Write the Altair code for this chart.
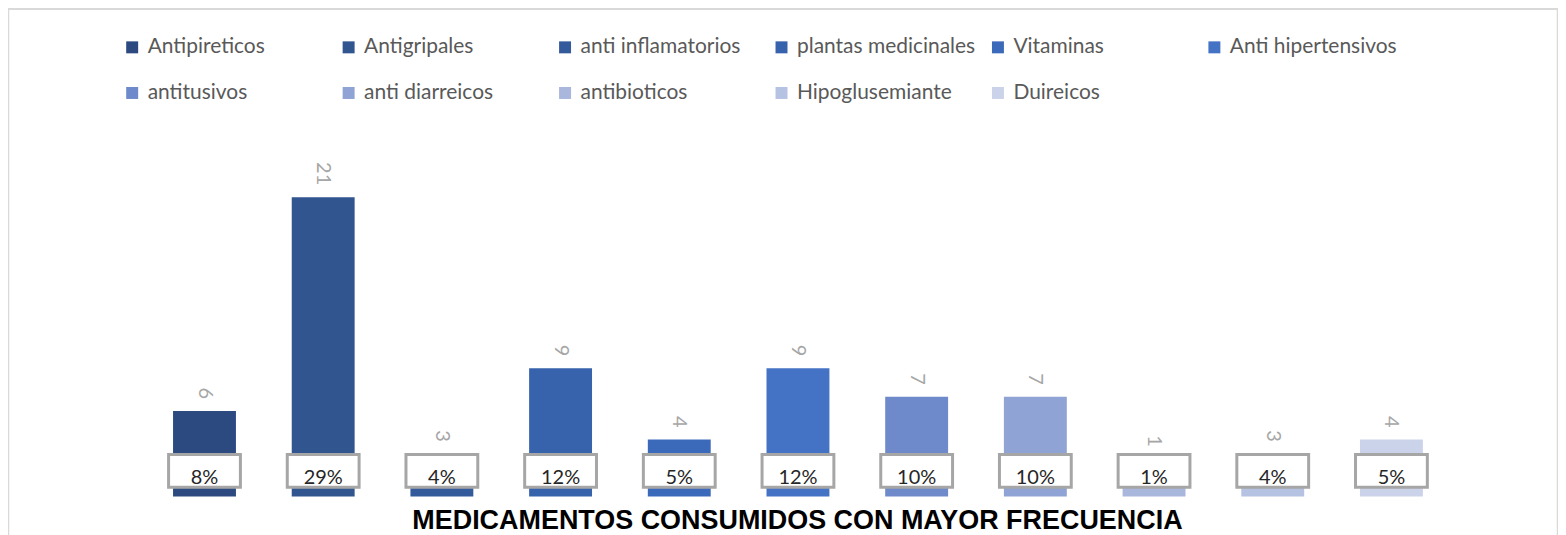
import altair as alt
import pandas as pd

categories = ["Antipireticos", "Antigripales", "anti inflamatorios", "plantas medicinales",
              "Vitaminas", "Anti hipertensivos", "antitusivos", "anti diarreicos",
              "antibioticos", "Hipoglusemiante", "Duireicos"]
counts = [6, 21, 3, 9, 4, 9, 7, 7, 1, 3, 4]
pct_labels = ["8%", "29%", "4%", "12%", "5%", "12%", "10%", "10%", "1%", "4%", "5%"]
colors = ["#2c4a80", "#30558f", "#335b9c", "#3762ac", "#3c6aba", "#4472c4",
          "#6e8acb", "#8fa3d4", "#a9b7dd", "#b6c2e2", "#cbd3ea"]
title_text = "MEDICAMENTOS CONSUMIDOS CON MAYOR FRECUENCIA"

df = pd.DataFrame({"cat": categories, "n": counts, "pct": pct_labels})

W, H = 1554, 540
BOX_LO, BOX_HI = 0.65, 2.95
xscale = alt.Scale(range=[137.5, 1446.5], paddingInner=0.47, paddingOuter=0.235)
yscale = alt.Scale(domain=[-3.57, 34.23], nice=False, zero=False)

x_enc = alt.X("cat:N", sort=categories, scale=xscale,
              axis=alt.Axis(labels=False, ticks=False, domain=False, grid=False,
                            title=title_text, titleFont="Liberation Sans",
                            titleFontWeight="bold", titleFontSize=27, titleColor="#000000",
                            titleBaseline="alphabetic", titleY=-19, titleX=791,
                            titleAlign="center"))
y_axis = alt.Axis(labels=False, ticks=False, domain=False, grid=False, title=None)

base = alt.Chart(df)

bars = base.mark_bar().encode(
    x=x_enc,
    y=alt.Y("n:Q", scale=yscale, axis=y_axis),
    y2=alt.datum(0),
    color=alt.Color("cat:N", sort=categories,
                    scale=alt.Scale(domain=categories, range=colors),
                    legend=alt.Legend(title=None, orient="none", legendX=114, legendY=28,
                                      direction="horizontal", columns=6, gridAlign="all",
                                      columnPadding=12, rowPadding=24, padding=0,
                                      symbolType="square", symbolSize=144,
                                      symbolStrokeWidth=0, labelOffset=5,
                                      labelFont="Lato", labelFontSize=21,
                                      labelColor="#595959", labelLimit=400)),
)

# value labels sit above the bar, or just above the percentage box when the bar is shorter
values = base.transform_calculate(
    ly=f"max(datum.n, {BOX_HI - 0.3})"
).mark_text(angle=90, align="right", baseline="middle", dx=-12,
            font="Lato", fontSize=20, color="#a6a6a6").encode(
    x=alt.X("cat:N", sort=categories, scale=xscale),
    y=alt.Y("ly:Q", scale=yscale),
    text="n:Q",
)

boxes = base.mark_bar(width=72, fill="#ffffff", stroke="#a6a6a6", strokeWidth=3).encode(
    x=alt.X("cat:N", sort=categories, scale=xscale),
    y=alt.datum(BOX_LO, scale=yscale),
    y2=alt.datum(BOX_HI),
)

pcts = base.mark_text(align="center", baseline="alphabetic", font="Lato", fontSize=20,
                      color="#262626").encode(
    x=alt.X("cat:N", sort=categories, scale=xscale),
    y=alt.datum(0.85, scale=yscale),
    text="pct:N",
)

chart = alt.layer(bars, boxes, values, pcts).properties(
    width=W, height=H, padding=0, background="#ffffff"
).configure_view(stroke="#d9d9d9", strokeWidth=2.5)

chart.save("out.html", embed_options={"renderer": "svg", "actions": False})
